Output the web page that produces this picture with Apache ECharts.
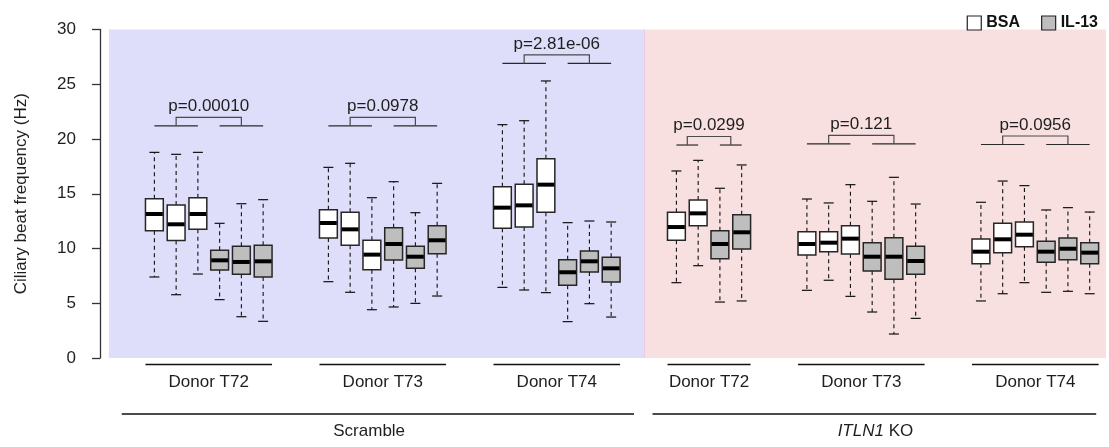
<!DOCTYPE html>
<html>
<head>
<meta charset="utf-8">
<script src="https://cdn.jsdelivr.net/npm/echarts@6/dist/echarts.min.js"></script>
<style>
  html, body { margin: 0; padding: 0; background: #fff; }
  #chart { width: 1109px; height: 447px; }
</style>
</head>
<body>
<div id="chart"></div>
<script>
// ---- Data: ciliary beat frequency (Hz), box statistics [low whisker, Q1, median, Q3, high whisker]
const donorLabels = ['Donor T72', 'Donor T73', 'Donor T74', 'Donor T72', 'Donor T73', 'Donor T74'];
const sectionLabels = ['Scramble', '{i|ITLN1} KO'];
const donorSection = [0, 0, 0, 1, 1, 1];

const bsaStats = [
  [[7.40, 11.63, 13.15, 14.55, 18.78], [5.78, 10.72, 12.21, 13.97, 18.60], [7.67, 11.75, 13.15, 14.64, 18.78]],
  [[6.97, 10.96, 12.33, 13.55, 17.41], [6.00, 10.29, 11.75, 13.30, 17.78], [4.41, 8.07, 9.44, 10.75, 14.64]],
  [[6.45, 11.84, 13.73, 15.65, 21.31], [6.21, 11.96, 13.94, 15.86, 21.67], [5.97, 13.30, 15.83, 18.20, 25.30]],
  [[6.88, 10.75, 11.96, 13.30, 17.08], [8.43, 12.08, 13.21, 14.43, 18.05]],
  [[6.18, 9.41, 10.41, 11.54, 14.52], [7.10, 9.71, 10.53, 11.54, 14.16], [5.63, 9.50, 10.90, 12.08, 15.83]],
  [[5.21, 8.61, 9.71, 10.87, 14.22], [5.87, 9.62, 10.84, 12.30, 16.16], [6.88, 10.16, 11.26, 12.42, 15.74]]
];
const il13Stats = [
  [[5.33, 8.04, 8.92, 9.83, 12.30], [3.77, 7.64, 8.77, 10.20, 14.09], [3.35, 7.40, 8.83, 10.29, 14.46]],
  [[4.66, 8.95, 10.41, 11.90, 16.10], [4.99, 8.19, 9.25, 10.20, 13.27], [5.66, 9.53, 10.75, 12.08, 15.95]],
  [[3.32, 6.64, 7.83, 8.98, 12.36], [4.96, 7.85, 8.83, 9.77, 12.51], [3.74, 6.94, 8.19, 9.20, 12.42]],
  [[5.11, 9.07, 10.41, 11.63, 15.50], [5.21, 9.95, 11.48, 13.09, 17.63]],
  [[4.20, 7.95, 9.25, 10.53, 14.31], [2.19, 7.19, 9.25, 10.99, 16.50], [3.62, 7.64, 8.86, 10.20, 14.06]],
  [[6.00, 8.74, 9.71, 10.66, 13.52], [6.09, 8.98, 9.98, 10.96, 13.73], [5.87, 8.61, 9.62, 10.53, 13.33]]
];

const pValueLabels = ['p=0.00010', 'p=0.0978', 'p=2.81e-06', 'p=0.0299', 'p=0.121', 'p=0.0956'];
const bracketLevels = [21.2, 21.2, 26.9, 19.45, 19.55, 19.5];

const yTicks = { min: 0, max: 30, interval: 5 };

// ---- Layout constants (slot units along the x axis)
const GAP_SLOTS = 2;
const BOX_HALF = 0.41;
const STAPLE_HALF = 0.23;
const X_MIN = -2.5, X_MAX = 43.75;
const FONT = '"Liberation Sans", Arial, Helvetica, sans-serif';
const TEXT_COLOR = '#1e1e1e';

// Slot positions: one slot per box, GAP_SLOTS empty slots between donors
const groupInfo = [];
let cursor = 0;
donorLabels.forEach((label, gi) => {
  const nb = bsaStats[gi].length, ni = il13Stats[gi].length;
  const bsaPos = [], ilPos = [];
  for (let k = 0; k < nb; k++) bsaPos.push(cursor + k);
  for (let k = 0; k < ni; k++) ilPos.push(cursor + nb + k);
  groupInfo.push({ bsaPos, ilPos, first: cursor, last: cursor + nb + ni - 1 });
  cursor += nb + ni + GAP_SLOTS;
});

const bsaData = [], il13Data = [];
groupInfo.forEach((g, gi) => {
  g.bsaPos.forEach((x, k) => bsaData.push([x].concat(bsaStats[gi][k])));
  g.ilPos.forEach((x, k) => il13Data.push([x].concat(il13Stats[gi][k])));
});

const bracketData = groupInfo.map((g, gi) => [
  g.bsaPos[0], g.bsaPos[g.bsaPos.length - 1], g.ilPos[0], g.ilPos[g.ilPos.length - 1], bracketLevels[gi], gi
]);

const donorSpanData = groupInfo.map((g, gi) => [g.first - BOX_HALF, g.last + BOX_HALF, gi]);

// Section spans (Scramble / ITLN1 KO)
const sectionPad = [[1.5, 1.05], [1.1, 0.3]];
const sectionLabelShift = [-0.4, 0.05];
const sectionSpanData = sectionLabels.map((s, si) => {
  const members = groupInfo.filter((g, gi) => donorSection[gi] === si);
  return [members[0].first - sectionPad[si][0], members[members.length - 1].last + sectionPad[si][1], si];
});

// Background bands: split halfway between the two sections
const lastScramble = groupInfo[2].last, firstKO = groupInfo[3].first;
const bandSplit = (lastScramble + firstKO) / 2;
const bandData = [[groupInfo[0].first - 2.09, bandSplit, 0], [bandSplit, X_MAX, 1]];
const bandColors = ['#dedefa', '#f9e0e0'];

// ---- Renderers
function makeBoxRenderer(fill) {
  return function (params, api) {
    const x = api.value(0);
    const lo = api.coord([x, api.value(1)])[1];
    const q1 = api.coord([x, api.value(2)])[1];
    const md = api.coord([x, api.value(3)])[1];
    const q3 = api.coord([x, api.value(4)])[1];
    const hi = api.coord([x, api.value(5)])[1];
    const cx = api.coord([x, 0])[0];
    const xl = api.coord([x - BOX_HALF, 0])[0];
    const xr = api.coord([x + BOX_HALF, 0])[0];
    const sl = api.coord([x - STAPLE_HALF, 0])[0];
    const sr = api.coord([x + STAPLE_HALF, 0])[0];
    const dash = { stroke: '#111', lineWidth: 1.1, lineDash: [4, 3.5] };
    const solid = { stroke: '#111', lineWidth: 1.2 };
    return {
      type: 'group',
      children: [
        { type: 'line', shape: { x1: cx, y1: q3, x2: cx, y2: hi }, style: dash },
        { type: 'line', shape: { x1: cx, y1: q1, x2: cx, y2: lo }, style: dash },
        { type: 'line', shape: { x1: sl, y1: hi, x2: sr, y2: hi }, style: solid },
        { type: 'line', shape: { x1: sl, y1: lo, x2: sr, y2: lo }, style: solid },
        { type: 'rect', shape: { x: xl, y: q3, width: xr - xl, height: q1 - q3 },
          style: { fill: fill, stroke: '#262626', lineWidth: 1.5 } },
        { type: 'line', shape: { x1: xl + 0.5, y1: md, x2: xr - 0.5, y2: md },
          style: { stroke: '#000', lineWidth: 4 } }
      ]
    };
  };
}

function renderBracket(params, api) {
  const lvl = api.value(4);
  const gi = api.value(5);
  const y = api.coord([0, lvl])[1];
  const xa0 = api.coord([api.value(0), lvl])[0];
  const xa1 = api.coord([api.value(1), lvl])[0];
  const xb0 = api.coord([api.value(2), lvl])[0];
  const xb1 = api.coord([api.value(3), lvl])[0];
  const ma = (xa0 + xa1) / 2, mb = (xb0 + xb1) / 2;
  const top = y - 8.5;
  const ls = { stroke: '#2a2a2a', lineWidth: 1.2 };
  return {
    type: 'group',
    children: [
      { type: 'line', shape: { x1: xa0, y1: y, x2: xa1, y2: y }, style: ls },
      { type: 'line', shape: { x1: xb0, y1: y, x2: xb1, y2: y }, style: ls },
      { type: 'polyline', shape: { points: [[ma, y], [ma, top], [mb, top], [mb, y]] },
        style: { stroke: '#4a4a4a', lineWidth: 1.2, fill: null } },
      { type: 'text', x: (ma + mb) / 2, y: top - 11,
        style: { text: pValueLabels[gi], fill: TEXT_COLOR, fontSize: 17, fontFamily: FONT,
                 align: 'center', verticalAlign: 'middle' } }
    ]
  };
}

function renderDonorSpan(params, api) {
  const gi = api.value(2);
  const base = api.coord([0, 0])[1];
  const x0 = api.coord([api.value(0), 0])[0];
  const x1 = api.coord([api.value(1), 0])[0];
  return {
    type: 'group',
    children: [
      { type: 'line', shape: { x1: x0, y1: base + 6.5, x2: x1, y2: base + 6.5 },
        style: { stroke: '#111', lineWidth: 1.3 } },
      { type: 'text', x: (x0 + x1) / 2, y: base + 24,
        style: { text: donorLabels[gi], fill: TEXT_COLOR, fontSize: 17, fontFamily: FONT,
                 align: 'center', verticalAlign: 'middle' } }
    ]
  };
}

function renderSectionSpan(params, api) {
  const si = api.value(2);
  const base = api.coord([0, 0])[1];
  const a = api.value(0), b = api.value(1);
  const x0 = api.coord([a, 0])[0];
  const x1 = api.coord([b, 0])[0];
  const xm = api.coord([(a + b) / 2 + sectionLabelShift[si], 0])[0];
  return {
    type: 'group',
    children: [
      { type: 'line', shape: { x1: x0, y1: base + 56, x2: x1, y2: base + 56 },
        style: { stroke: '#111', lineWidth: 1.3 } },
      { type: 'text', x: xm, y: base + 73.5,
        style: { text: sectionLabels[si], fill: TEXT_COLOR, fontSize: 17, fontFamily: FONT,
                 align: 'center', verticalAlign: 'middle',
                 rich: { i: { fontStyle: 'italic', fontSize: 17, fontFamily: FONT, fill: TEXT_COLOR } } } }
    ]
  };
}

function renderBand(params, api) {
  const ci = api.value(2);
  const p0 = api.coord([api.value(0), yTicks.max]);
  const p1 = api.coord([api.value(1), yTicks.min]);
  const children = [
    { type: 'rect', shape: { x: p0[0], y: p0[1], width: p1[0] - p0[0], height: p1[1] - p0[1] },
      style: { fill: bandColors[ci] } }
  ];
  if (ci === 1) {
    children.push({ type: 'line', shape: { x1: p0[0] + 0.5, y1: p0[1], x2: p0[0] + 0.5, y2: p1[1] },
      style: { stroke: '#e6c9dc', lineWidth: 1.2 } });
  }
  return { type: 'group', children: children };
}

// ---- Chart
const chart = echarts.init(document.getElementById('chart'), null, { renderer: 'canvas' });
chart.setOption({
  animation: false,
  backgroundColor: '#ffffff',
  textStyle: { fontFamily: FONT },
  grid: { left: 100, top: 29.5, width: 1006, height: 328.5, containLabel: false },
  legend: {
    right: 6, top: 10, itemWidth: 14, itemHeight: 14, itemGap: 21,
    icon: 'rect',
    textStyle: { fontSize: 16, fontWeight: 'bold', color: '#111', fontFamily: FONT },
    data: [
      { name: 'BSA', itemStyle: { color: '#ffffff', borderColor: '#222', borderWidth: 1.2 } },
      { name: 'IL-13', itemStyle: { color: '#bebebe', borderColor: '#222', borderWidth: 1.2 } }
    ]
  },
  xAxis: { type: 'value', min: X_MIN, max: X_MAX, show: false },
  yAxis: {
    type: 'value', min: yTicks.min, max: yTicks.max, interval: yTicks.interval,
    name: 'Ciliary beat frequency (Hz)', nameLocation: 'middle', nameGap: 70, nameRotate: 90,
    nameTextStyle: { fontSize: 17, color: TEXT_COLOR, fontFamily: FONT },
    axisLine: { show: true, onZero: false, lineStyle: { color: '#333', width: 1.3 } },
    axisTick: { show: true, length: 8, lineStyle: { color: '#333', width: 1.3 } },
    axisLabel: { fontSize: 17, color: TEXT_COLOR, margin: 24, fontFamily: FONT },
    splitLine: { show: false }
  },
  series: [
    { name: 'bands', type: 'custom', z: 0, silent: true, clip: false,
      renderItem: renderBand, encode: { x: [0, 1] }, data: bandData },
    { name: 'BSA', type: 'custom', z: 3, silent: true, clip: false,
      itemStyle: { color: '#ffffff', borderColor: '#222', borderWidth: 1.2 },
      renderItem: makeBoxRenderer('#ffffff'), encode: { x: 0, y: [1, 2, 3, 4, 5] }, data: bsaData },
    { name: 'IL-13', type: 'custom', z: 3, silent: true, clip: false,
      itemStyle: { color: '#bebebe', borderColor: '#222', borderWidth: 1.2 },
      renderItem: makeBoxRenderer('#bebebe'), encode: { x: 0, y: [1, 2, 3, 4, 5] }, data: il13Data },
    { name: 'brackets', type: 'custom', z: 4, silent: true, clip: false,
      renderItem: renderBracket, encode: { x: [0, 3], y: 4 }, data: bracketData },
    { name: 'donors', type: 'custom', z: 4, silent: true, clip: false,
      renderItem: renderDonorSpan, encode: { x: [0, 1] }, data: donorSpanData },
    { name: 'sections', type: 'custom', z: 4, silent: true, clip: false,
      renderItem: renderSectionSpan, encode: { x: [0, 1] }, data: sectionSpanData }
  ]
});
</script>
</body>
</html>
